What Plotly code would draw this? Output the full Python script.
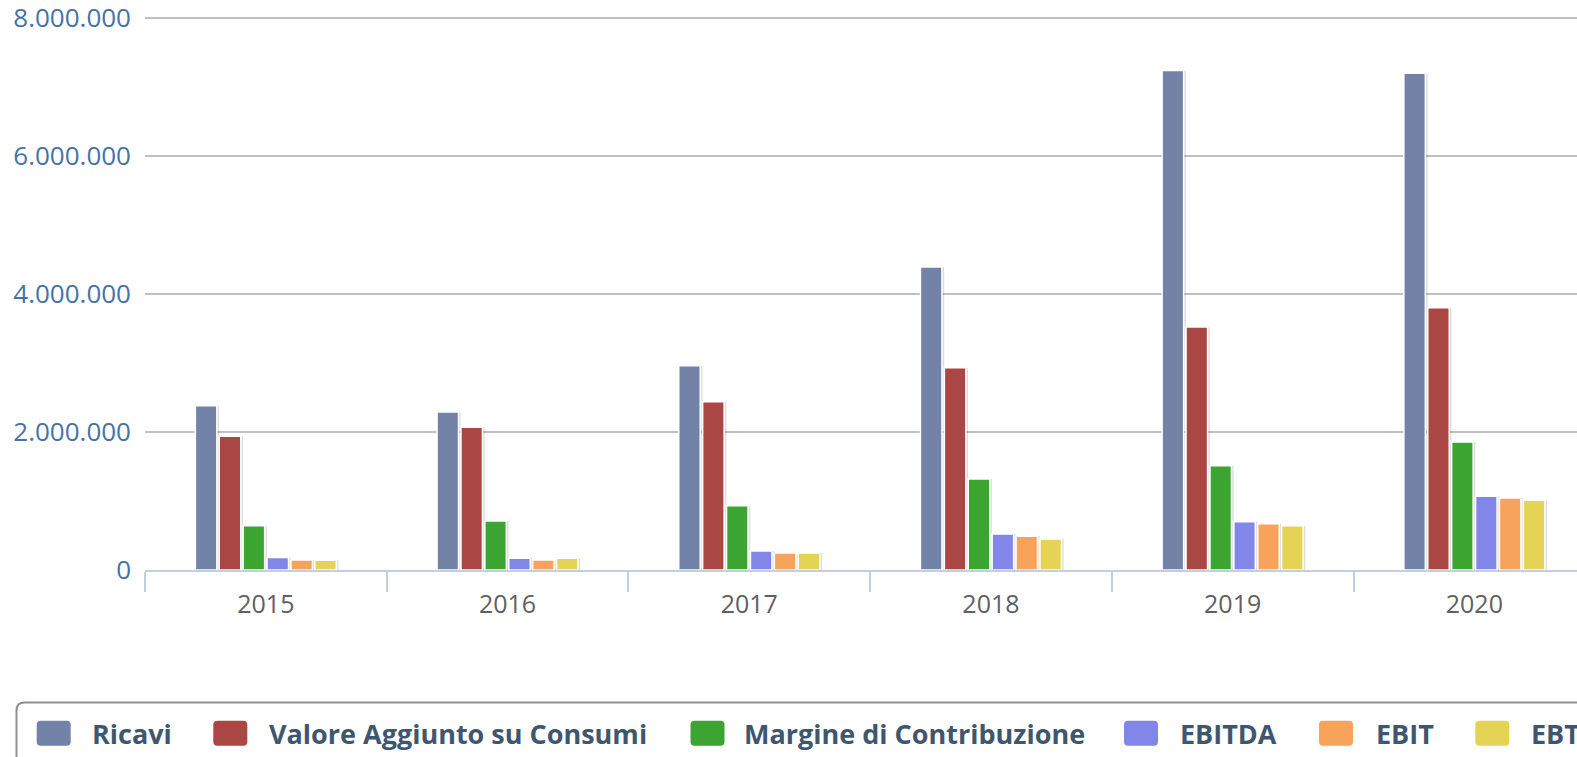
import plotly.graph_objects as go

# ---------------- data ----------------
years = ["2015", "2016", "2017", "2018", "2019", "2020"]
series_names = ["Ricavi", "Valore Aggiunto su Consumi", "Margine di Contribuzione",
                "EBITDA", "EBIT", "EBT"]
ricavi = [2380000, 2290000, 2960000, 4390000, 7240000, 7200000]
valore_aggiunto = [1940000, 2070000, 2440000, 2930000, 3520000, 3800000]
margine_contribuzione = [640000, 710000, 930000, 1320000, 1510000, 1855000]
ebitda = [180000, 170000, 275000, 520000, 700000, 1070000]
ebit = [145000, 145000, 246000, 490000, 670000, 1045000]
ebt = [140000, 170000, 246000, 450000, 640000, 1010000]
y_ticks = [0, 2000000, 4000000, 6000000, 8000000]

series_values = [ricavi, valore_aggiunto, margine_contribuzione, ebitda, ebit, ebt]
colors = ["#7383A8", "#AA4643", "#3CA531", "#8286E8", "#F7A35C", "#E4D354"]

# ---------------- layout geometry ----------------
W, H = 1577, 757
ML, MR, MT, MB = 145, 0, 12, 187
PW = W - ML - MR
PH = H - MT - MB
Y0_PX, YMAX_PX = H - MB, 18.0          # pixel rows of 0 and of the top tick
y_top = y_ticks[-1] * (Y0_PX - MT) / (Y0_PX - YMAX_PX)
CAT_PX = 241.7
SLOT_PX = 23.9
BAR_PX = 21.5

slot = SLOT_PX / CAT_PX
barw = BAR_PX / CAT_PX
group = slot * len(series_names)


def px(x):
    return (x - ML) / PW


def py(y):
    return (H - MB - y) / PH


fig = go.Figure()

# shadows
for i, vals in enumerate(series_values):
    off = -group / 2 + i * slot + (slot - barw) / 2
    fig.add_trace(go.Bar(
        x=years, y=vals, width=barw, offset=off + 2.2 / CAT_PX,
        marker=dict(color="rgba(0,0,0,0.13)", line=dict(width=0)),
        showlegend=False, hoverinfo="skip"))

for i, (name, vals) in enumerate(zip(series_names, series_values)):
    off = -group / 2 + i * slot + (slot - barw) / 2
    fig.add_trace(go.Bar(
        x=years, y=vals, name=name, width=barw, offset=off,
        marker=dict(color=colors[i], line=dict(color="white", width=1.5)),
        showlegend=False))

# ---------------- custom legend ----------------
shapes = []
annotations = []

bx, by, r = 16.5, 702.5, 8
path = (f"M {px(bx)},{py(800)} L {px(bx)},{py(by + r)} "
        f"Q {px(bx)},{py(by)} {px(bx + r)},{py(by)} L {px(1700)},{py(by)}")
shapes.append(dict(type="path", path=path, xref="paper", yref="paper",
                   line=dict(color="#8F8F8F", width=2), fillcolor="rgba(0,0,0,0)"))

sym_x = [36.7, 213.3, 690.5, 1124.0, 1319.0, 1475.3]
txt_x = [91.0, 268.0, 743.0, 1179.0, 1375.0, 1530.0]
sy0, sy1, sr = 720.7, 745.7, 4
for i, name in enumerate(series_names):
    x0, x1 = sym_x[i], sym_x[i] + 34
    p = (f"M {px(x0 + sr)},{py(sy0)} L {px(x1 - sr)},{py(sy0)} "
         f"Q {px(x1)},{py(sy0)} {px(x1)},{py(sy0 + sr)} "
         f"L {px(x1)},{py(sy1 - sr)} Q {px(x1)},{py(sy1)} {px(x1 - sr)},{py(sy1)} "
         f"L {px(x0 + sr)},{py(sy1)} Q {px(x0)},{py(sy1)} {px(x0)},{py(sy1 - sr)} "
         f"L {px(x0)},{py(sy0 + sr)} Q {px(x0)},{py(sy0)} {px(x0 + sr)},{py(sy0)} Z")
    shapes.append(dict(type="path", path=p, xref="paper", yref="paper",
                       line=dict(width=0), fillcolor=colors[i]))
    annotations.append(dict(
        text=f"<b>{name}</b>", x=px(txt_x[i]), y=py(733.0), xref="paper", yref="paper",
        xanchor="left", yanchor="middle", showarrow=False, borderpad=0,
        font=dict(family="Open Sans", size=27, color="#3E576F")))

fig.update_layout(
    width=W, height=H,
    margin=dict(l=ML, r=MR, t=MT, b=MB, pad=0),
    barmode="overlay",
    plot_bgcolor="white", paper_bgcolor="white",
    separators=",.",
    shapes=shapes, annotations=annotations,
    showlegend=False,
    xaxis=dict(
        type="category",
        range=[-0.5, -0.5 + PW / CAT_PX],
        showline=True, linecolor="#C0D0E0", linewidth=2,
        ticks="outside", tickson="boundaries", ticklen=20, tickwidth=2,
        tickcolor="#C0D0E0", ticklabelstandoff=11,
        showgrid=False, zeroline=False,
        tickfont=dict(family="Open Sans", size=25, color="#606060"),
    ),
    yaxis=dict(
        range=[0, y_top],
        tickvals=y_ticks, tickformat=",.0f",
        showgrid=True, gridcolor="#C0C0C0", gridwidth=1.5,
        zeroline=False, showline=False,
        ticks="", ticklabelstandoff=13, ticklabeloverflow="allow",
        tickfont=dict(family="Open Sans", size=26, color="#4572A7"),
    ),
)

fig.write_html("out.html", config={"displayModeBar": False},
               post_script="document.body.style.margin='0';document.body.style.overflow='hidden';")
